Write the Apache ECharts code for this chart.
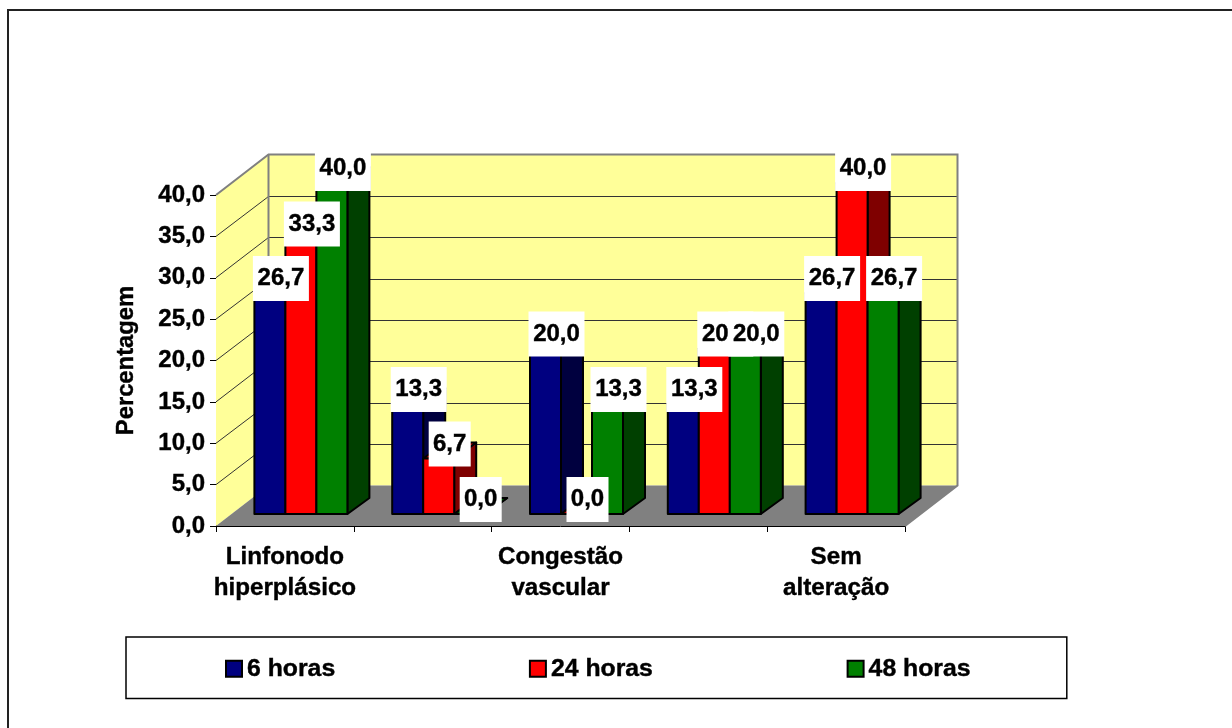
<!DOCTYPE html>
<html>
<head>
<meta charset="utf-8">
<style>
  html, body { margin: 0; padding: 0; background: #fff; }
  #chart { width: 1232px; height: 728px; }
</style>
<script src="https://cdn.jsdelivr.net/npm/echarts@6/dist/echarts.min.js"></script>
</head>
<body>
<div id="chart"></div>
<script>
const categories = ['Linfonodo\nhiperplásico', '', 'Congestão\nvascular', '', 'Sem\nalteração']
const yTicks = [0, 5, 10, 15, 20, 25, 30, 35, 40]
const seisHoras = [26.7, 13.3, 20.0, 13.3, 26.7]
const vinteQuatroHoras = [33.3, 6.7, 0.0, 20.0, 40.0]
const quarentaOitoHoras = [40.0, 0.0, 13.3, 20.0, 26.7]

const FONT = 'bold 24px "Liberation Sans", Arial, sans-serif'
// the reference text is a bit heavier than plain bold
const HEAVY = { textBorderColor: '#000', textBorderWidth: 0.4 }
const fmt = v => v.toFixed(1).replace('.', ',')

// offset of the whole depth of the 3d box, and of the plane where the bars stand
const WALL = [52.5, -40.5]
const BAR_BASE = [16, -12]
const BAR_DEPTH = [22, -16]
const BAR_WIDTH = 31

function offset(p, d) {
  return [p[0] + d[0], p[1] + d[1]]
}

function renderWalls(params, api) {
  const cs = params.coordSys
  const left = cs.x
  const right = cs.x + cs.width
  const y0 = api.coord([0, 0])[1]
  const yMax = api.coord([0, 40])[1]
  const fl = [left, y0]
  const fr = [right, y0]
  const tl = [left, yMax]
  const children = [
    { type: 'polygon', shape: { points: [tl, offset(tl, WALL), offset(fl, WALL), fl] }, style: { fill: '#ffff99' } },
    { type: 'polygon', shape: { points: [offset(tl, WALL), offset([right, yMax], WALL), offset(fr, WALL), offset(fl, WALL)] }, style: { fill: '#ffff99' } },
    { type: 'polygon', shape: { points: [fl, offset(fl, WALL), offset(fr, WALL), fr] }, style: { fill: '#808080' } }
  ]
  yTicks.forEach(t => {
    const y = api.coord([0, t])[1]
    if (t > 0 && t < 40) {
      const a = [left, y]
      const b = offset(a, WALL)
      const c = offset([right, y], WALL)
      b[1] = Math.round(b[1]) + 0.5
      c[1] = b[1]
      children.push({ type: 'polyline', shape: { points: [a, b, c] }, style: { stroke: '#333', lineWidth: 1, fill: null } })
    }
  })
  // grey frame of the walls
  children.push({
    type: 'polyline',
    shape: { points: [tl, offset(tl, WALL), offset([right, yMax], WALL), offset(fr, WALL), fr] },
    style: { stroke: '#808080', lineWidth: 2, fill: null }
  })
  children.push({
    type: 'polyline',
    shape: { points: [offset(tl, WALL), offset(fl, WALL)] },
    style: { stroke: '#808080', lineWidth: 2, fill: null }
  })
  return { type: 'group', children }
}

function barRenderer(serieIndex, front, side, top) {
  return function (params, api) {
    const cat = api.value(0)
    const val = api.value(1)
    const center = api.coord([cat, 0])
    const x0 = center[0] + BAR_BASE[0] + (serieIndex - 1.5) * BAR_WIDTH
    const x1 = x0 + BAR_WIDTH
    const yBase = center[1] + BAR_BASE[1]
    const yTop = api.coord([cat, val])[1] + BAR_BASE[1]
    const stroke = { stroke: '#000', lineWidth: 2, lineJoin: 'round' }
    return {
      type: 'group',
      children: [
        { type: 'polygon', shape: { points: [[x1, yBase], offset([x1, yBase], BAR_DEPTH), offset([x1, yTop], BAR_DEPTH), [x1, yTop]] }, style: { fill: side, ...stroke } },
        { type: 'polygon', shape: { points: [[x0, yTop], offset([x0, yTop], BAR_DEPTH), offset([x1, yTop], BAR_DEPTH), [x1, yTop]] }, style: { fill: top, ...stroke } },
        { type: 'rect', shape: { x: x0, y: yTop, width: BAR_WIDTH, height: yBase - yTop }, style: { fill: front, ...stroke } }
      ]
    }
  }
}

function labelRenderer(serieIndex) {
  return function (params, api) {
    const cat = api.value(0)
    const val = api.value(1)
    const center = api.coord([cat, val])
    const text = fmt(val)
    const w = text.length * 14
    const cx = center[0] + BAR_BASE[0] + (serieIndex - 1.5) * BAR_WIDTH + BAR_WIDTH / 2 + BAR_DEPTH[0] / 2
    const cy = center[1] + BAR_BASE[1] - 14.5
    return {
      type: 'group',
      children: [
        { type: 'rect', shape: { x: cx - w / 2, y: cy - 22.5, width: w, height: 45 }, style: { fill: '#fff' } },
        { type: 'text', style: { x: cx, y: cy, text, font: FONT, fill: '#000', align: 'center', verticalAlign: 'middle', stroke: '#000', lineWidth: 0.4 } }
      ]
    }
  }
}

function toData(values) {
  return values.map((v, i) => [i, v])
}

const palette = [
  { name: '6 horas', values: seisHoras, front: '#000080', side: '#00003f', top: '#000060' },
  { name: '24 horas', values: vinteQuatroHoras, front: '#ff0000', side: '#7f0000', top: '#bf0000' },
  { name: '48 horas', values: quarentaOitoHoras, front: '#008000', side: '#004000', top: '#006000' }
]

const barSeries = palette.map((p, i) => ({
  name: p.name,
  type: 'custom',
  z: 3,
  itemStyle: { color: p.front },
  renderItem: barRenderer(i, p.front, p.side, p.top),
  encode: { x: 0, y: 1 },
  data: toData(p.values)
}))

const labelSeries = palette.map((p, i) => ({
  type: 'custom',
  z: 4,
  silent: true,
  renderItem: labelRenderer(i),
  encode: { x: 0, y: 1 },
  data: toData(p.values)
}))

const chart = echarts.init(document.getElementById('chart'))
chart.setOption({
  animation: false,
  backgroundColor: '#ffffff',
  textStyle: { fontFamily: '"Liberation Sans", Arial, sans-serif' },
  graphic: [{
    type: 'polyline',
    z: -1,
    shape: { points: [[8, 728], [8, 10], [1232, 10]] },
    style: { fill: null, stroke: '#222', lineWidth: 2 }
  }],
  grid: { left: 216, top: 195, width: 689, height: 331, containLabel: false },
  legend: {
    left: 126,
    top: 637,
    orient: 'horizontal',
    data: palette.map(p => p.name),
    icon: 'rect',
    itemWidth: 16,
    itemHeight: 16,
    itemGap: 193.5,
    padding: [19, 96, 17, 99],
    borderColor: '#000',
    borderWidth: 1.5,
    itemStyle: { borderColor: '#000', borderWidth: 2 },
    textStyle: { fontSize: 24.8, fontWeight: 'bold', color: '#000', ...HEAVY }
  },
  xAxis: {
    type: 'category',
    data: categories,
    axisLine: { lineStyle: { color: '#000', width: 1 } },
    axisTick: { show: true, length: 6, lineStyle: { color: '#000' }, interval: 0 },
    axisLabel: { interval: 0, margin: 16, color: '#000', fontSize: 24.2, fontWeight: 'bold', lineHeight: 31, ...HEAVY },
    splitLine: { show: false }
  },
  yAxis: {
    type: 'value',
    min: 0,
    max: 40,
    interval: 5,
    name: 'Percentagem',
    nameLocation: 'middle',
    nameGap: 78,
    nameTextStyle: { color: '#000', fontSize: 23.8, fontWeight: 'bold', ...HEAVY },
    axisLine: { show: true, lineStyle: { color: '#000', width: 1 } },
    axisTick: { show: true, length: 6, lineStyle: { color: '#000' } },
    axisLabel: { margin: 11, color: '#000', fontSize: 24, fontWeight: 'bold', padding: [3, 0, 0, 0], formatter: fmt, ...HEAVY },
    splitLine: { show: false }
  },
  series: [
    {
      type: 'custom',
      z: 1,
      silent: true,
      renderItem: renderWalls,
      data: [[0, 0]]
    },
    ...barSeries,
    ...labelSeries
  ]
})
</script>
</body>
</html>
